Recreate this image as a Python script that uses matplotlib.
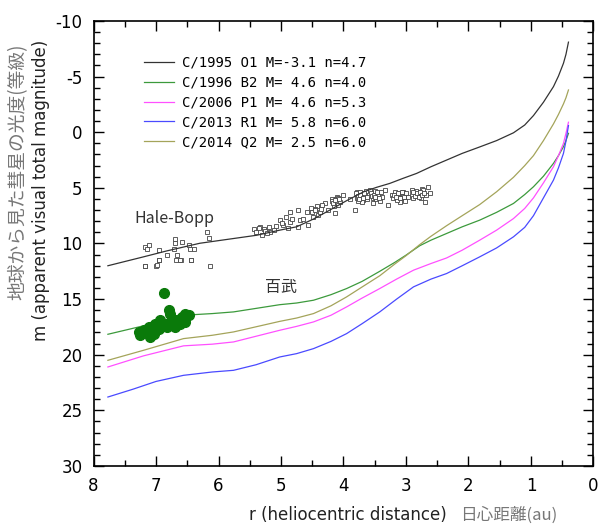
import numpy as np
import matplotlib as mpl
mpl.use('Agg')
import matplotlib.pyplot as plt
from matplotlib.ticker import MultipleLocator

plt.rcParams['axes.unicode_minus'] = False

# model light curves, m vs r (au)
r_o1 = [7.77, 7.2, 6.83, 6.30, 5.82, 5.39, 5.02, 4.75, 4.48, 4.22, 3.95, 3.68, 3.47, 3.26, 3.05, 2.83, 2.6,
        2.35, 2.1, 1.82, 1.55, 1.28, 1.1, 0.96, 0.8, 0.64, 0.56, 0.48, 0.44, 0.40]
m_o1 = [12.0, 11.2, 10.67, 9.98, 9.6, 9.26, 8.8, 8.5, 7.8, 7.0, 6.15, 5.36, 4.95, 4.6, 4.15, 3.7, 3.1,
        2.5, 1.9, 1.32, 0.75, 0.05, -0.65, -1.5, -2.7, -4.1, -5.05, -6.2, -7.0, -8.1]

r_b2 = [7.77, 7.2, 6.56, 6.1, 5.76, 5.02, 4.75, 4.48, 4.2, 3.95, 3.7, 3.42, 3.18, 3.0, 2.78, 2.6, 2.35, 2.1,
        1.82, 1.55, 1.28, 1.1, 0.96, 0.8, 0.64, 0.56, 0.48, 0.44, 0.40]
m_b2 = [18.16, 17.4, 16.45, 16.3, 16.15, 15.5, 15.35, 15.1, 14.6, 14.05, 13.4, 12.5, 11.7, 11.05, 10.2, 9.7, 9.1, 8.5,
        7.9, 7.2, 6.4, 5.6, 4.9, 3.95, 2.8, 2.1, 1.3, 0.75, 0.1]

r_p1 = [7.77, 7.2, 6.56, 6.1, 5.76, 5.02, 4.75, 4.48, 4.2, 3.95, 3.7, 3.42, 3.15, 2.88, 2.6, 2.35, 2.1,
        1.82, 1.55, 1.28, 1.1, 0.96, 0.8, 0.64, 0.56, 0.48, 0.44, 0.40]
m_p1 = [21.1, 20.1, 19.2, 19.05, 18.85, 17.8, 17.45, 17.05, 16.45, 15.7, 14.9, 14.05, 13.2, 12.4, 11.8, 11.3, 10.6,
        9.7, 8.8, 7.76, 6.85, 5.9, 4.55, 3.1, 2.1, 1.0, 0.1, -0.9]

r_r1 = [7.77, 7.37, 7.0, 6.56, 6.1, 5.76, 5.4, 5.02, 4.75, 4.48, 4.2, 3.95, 3.7, 3.42, 3.15, 2.88, 2.6,
        2.35, 2.1, 1.82, 1.55, 1.28, 1.1, 0.96, 0.8, 0.64, 0.56, 0.48, 0.44, 0.40]
m_r1 = [23.8, 23.1, 22.4, 21.85, 21.55, 21.4, 20.9, 20.2, 19.9, 19.45, 18.8, 18.1, 17.2, 16.15, 15.0, 13.9, 13.2,
        12.7, 12.0, 11.2, 10.4, 9.4, 8.55, 7.5, 5.9, 4.3, 3.2, 1.9, 0.8, -0.6]

r_q2 = [7.77, 7.2, 6.56, 6.1, 5.76, 5.02, 4.75, 4.48, 4.2, 3.95, 3.7, 3.42, 3.18, 3.0, 2.78, 2.6, 2.35, 2.1,
        1.82, 1.55, 1.28, 1.1, 0.96, 0.8, 0.64, 0.56, 0.48, 0.44, 0.40]
m_q2 = [20.5, 19.6, 18.55, 18.25, 17.95, 17.0, 16.7, 16.3, 15.6, 14.8, 13.9, 12.9, 11.85, 11.1, 10.1, 9.35, 8.4, 7.5,
        6.5, 5.35, 4.05, 3.0, 2.1, 0.75, -0.75, -1.6, -2.55, -3.1, -3.8]

labels = ['C/1995 O1 M=-3.1 n=4.7',
          'C/1996 B2 M= 4.6 n=4.0',
          'C/2006 P1 M= 4.6 n=5.3',
          'C/2013 R1 M= 5.8 n=6.0',
          'C/2014 Q2 M= 2.5 n=6.0']
colors = ['#333333', '#3c9a3c', '#ff50ff', '#4a4aff', '#a4a45a']

# Hale-Bopp observations
hb_r = [7.17, 7.12, 7.15, 6.95, 6.83, 6.96, 7.00, 7.17, 6.69, 6.70, 6.59, 6.71, 6.67, 6.68, 6.60,
        6.47, 6.40, 6.46, 6.44, 6.19, 6.16, 6.14, 7.18, 6.99, 6.96, 6.62, 6.44,
        5.44, 5.34, 5.28, 5.20, 5.31, 5.18, 5.02, 4.96, 4.86, 4.86, 4.72, 4.70, 4.64, 4.59, 4.56,
        4.72, 4.43, 4.40, 4.30, 4.24, 4.19, 4.14, 4.11,
        4.16, 4.14, 4.00, 3.90, 3.82, 3.79, 3.71, 3.68, 3.58, 3.52, 3.47, 3.39, 3.34, 3.28, 3.23,
        3.15, 3.10, 3.04, 2.96, 2.91, 2.86, 2.80, 2.75, 2.70, 2.64, 2.62,
        4.18, 4.15, 4.12, 4.10, 4.08, 4.06,
        3.80, 3.78, 3.76, 3.74, 3.72, 3.70, 3.66, 3.64, 3.62,
        3.56, 3.53, 3.50, 3.48, 3.45, 3.42, 3.40,
        3.20, 3.18, 3.14, 3.12, 3.08, 3.05, 3.02, 3.00,
        2.90, 2.88, 2.84, 2.82, 2.78, 2.76, 2.72, 2.68,
        4.45, 4.38, 4.35, 4.48, 4.52,
        4.98, 4.92, 4.88, 4.82, 5.08, 5.12,
        5.40, 5.36, 5.25, 5.22,
        4.17, 4.13, 4.09, 4.07, 3.77, 3.75, 3.73, 3.69, 3.67, 3.63,
        3.55, 3.51, 3.49, 3.46, 3.43, 3.19, 3.16, 3.13, 3.10, 3.07, 3.03,
        2.89, 2.85, 2.83, 2.79, 2.77, 2.74, 2.71, 4.50, 4.46, 4.36]
hb_m = [10.3, 10.16, 10.5, 10.6, 11.0, 11.45, 12.0, 12.05, 9.6, 10.0, 9.9, 10.5, 11.0, 11.5, 11.5,
        10.16, 10.45, 10.45, 11.5, 9.0, 9.5, 12.05, 11.98, 11.96, 11.5, 11.5, 11.5,
        8.7, 8.5, 8.7, 8.5, 9.2, 8.96, 7.9, 8.3, 7.2, 8.06, 7.0, 7.9, 7.76, 7.16, 8.36,
        8.5, 6.6, 7.46, 6.4, 7.0, 5.96, 6.56, 5.8,
        6.26, 7.3, 5.66, 5.96, 7.0, 5.36, 5.5, 6.1, 5.2, 6.4, 5.5, 5.8, 5.2, 6.56, 5.66,
        5.5, 6.26, 5.36, 5.8, 5.2, 5.5, 5.36, 5.06, 6.26, 4.9, 5.45,
        6.2, 6.6, 6.0, 6.4, 5.9, 6.3,
        5.5, 5.9, 6.2, 5.4, 5.8, 6.3, 5.6, 5.3, 6.0,
        5.5, 5.9, 5.3, 6.0, 5.6, 6.2, 5.4,
        5.9, 5.4, 6.1, 5.6, 5.9, 5.7, 6.2, 5.5,
        5.6, 5.9, 5.3, 5.7, 5.5, 5.9, 5.2, 5.6,
        6.9, 7.2, 6.5, 7.6, 6.8,
        8.2, 7.6, 8.6, 7.8, 8.4, 8.8,
        9.0, 8.6, 8.9, 9.1,
        6.4, 6.1, 6.5, 6.0, 5.7, 6.0, 5.6, 5.9, 5.5, 5.8,
        5.7, 5.6, 5.8, 5.4, 5.9, 5.6, 5.8, 5.5, 5.9, 5.4, 5.8,
        5.4, 5.7, 5.5, 5.8, 5.4, 5.6, 5.5, 7.2, 7.0, 6.9]

# Hyakutake observations
hy_r = [6.87, 7.28, 7.26, 7.20, 7.12, 7.10, 7.04, 7.02, 6.96, 6.94, 6.86, 6.83, 6.80, 6.78, 6.75,
        6.72, 6.67, 6.62, 6.59, 6.54, 6.54, 6.48, 6.70]
hy_m = [14.44, 17.95, 18.25, 17.8, 17.5, 18.4, 18.1, 17.2, 17.65, 16.9, 17.2, 17.5, 16.0, 16.3, 16.75,
        17.35, 16.9, 17.2, 16.6, 16.3, 17.05, 16.45, 17.5]

fig = plt.figure(figsize=(5.98, 5.25), dpi=100)
ax = fig.add_axes([0.1564, 0.1124, 0.836, 0.8476])

curves = [(r_o1, m_o1), (r_b2, m_b2), (r_p1, m_p1), (r_r1, m_r1), (r_q2, m_q2)]
for (rr, mm), c, lab in zip(curves, colors, labels):
    ax.plot(rr, mm, color=c, lw=0.9, label=lab, zorder=3)

ax.plot(hb_r, hb_m, ls='none', marker='s', ms=3.4, mfc='white', mec='#444444', mew=0.6, zorder=2)
ax.plot(hy_r, hy_m, ls='none', marker='o', ms=7, mfc='#0a7a0a', mec='#0a7a0a', zorder=4)

ax.set_xlim(8, 0)
ax.set_ylim(30, -10)
ax.xaxis.set_major_locator(MultipleLocator(1))
ax.xaxis.set_minor_locator(MultipleLocator(0.5))
ax.yaxis.set_major_locator(MultipleLocator(5))
ax.yaxis.set_minor_locator(MultipleLocator(1))
ax.tick_params(which='both', direction='in', top=True, right=True, width=1.0)
ax.tick_params(which='major', length=7, labelsize=12, pad=8)
ax.tick_params(which='minor', length=4)
for s in ax.spines.values():
    s.set_linewidth(1.2)

ax.text(7.34, 7.75, 'Hale-Bopp', fontsize=11.5, va='center', ha='left',
        family=['Noto Sans CJK JP', 'DejaVu Sans'], color='#333333')
ax.text(5.26, 14.0, '百武', fontsize=11.5, va='center', ha='left',
        family=['Noto Sans CJK JP', 'DejaVu Sans'], color='#333333')

leg = ax.legend(loc='upper left', bbox_to_anchor=(0.075, 0.95), frameon=False,
                handlelength=2.2, labelspacing=0.42, handletextpad=0.6,
                prop={'family': 'DejaVu Sans Mono', 'size': 10})

# axis titles: English in black, Japanese in grey
fig.text(0.068, 0.638, 'm (apparent visual total magnitude)', rotation=90, ha='center', va='center',
         fontsize=12, color='#222222')
fig.text(0.030, 0.672, '地球から見た彗星の光度(等級)', rotation=90, ha='center', va='center',
         fontsize=13.5, color='#777777', family=['Noto Sans CJK JP', 'DejaVu Sans'])
fig.text(0.7475, 0.019, 'r (heliocentric distance)', ha='right', va='center', fontsize=12, color='#222222')
fig.text(0.769, 0.019, '日心距離(au)', ha='left', va='center', fontsize=12, color='#777777',
         family=['Noto Sans CJK JP', 'DejaVu Sans'])

fig.savefig('out.png', dpi=100)
